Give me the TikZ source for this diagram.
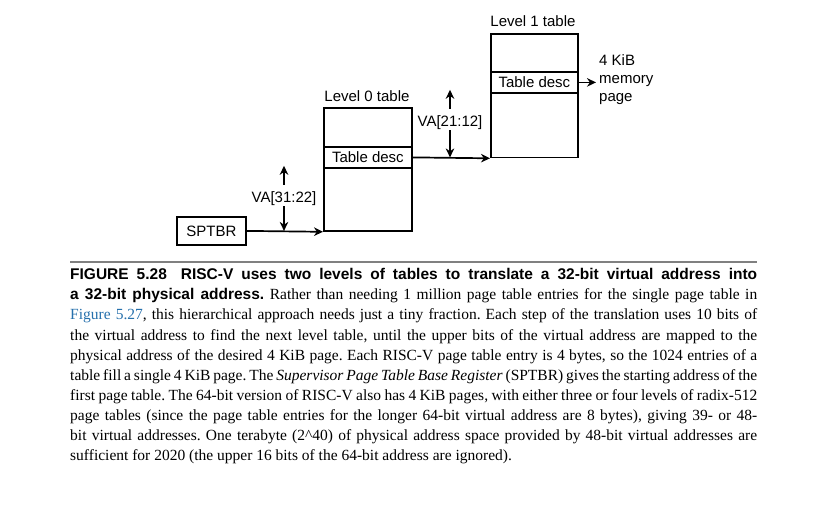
\documentclass[tikz,border=0pt]{standalone}
\usepackage{fontspec}
\setmainfont{Liberation Serif}
\setsansfont{Liberation Sans}
\usetikzlibrary{arrows.meta}
\definecolor{linkblue}{RGB}{38,112,172}
\begin{document}
\begin{tikzpicture}[x=1pt,y=-1pt,
  lbl/.style={font=\sffamily\fontsize{15}{18}\selectfont, inner sep=0pt},
  tbl/.style={draw, line width=1.8pt, anchor=north west, inner sep=0pt,
              font=\sffamily\fontsize{15}{18}\selectfont},
  conn/.style={line width=1.7pt, -{Stealth[length=9pt,width=8.5pt]}}]
\useasboundingbox (0,0) rectangle (828,514);
% SPTBR
\node[tbl, minimum width=69pt, minimum height=28pt] (sptbr) at (176,216) {SPTBR};
% Level 0 table
\node[tbl, minimum width=88pt, minimum height=123pt] (l0) at (323,107) {};
\node[tbl, minimum width=88pt, minimum height=21pt] (l0d) at (323,146) {Table desc};
\node[lbl, anchor=base] (l0lab) at (367,101) {Level 0 table};
% Level 1 table
\node[tbl, minimum width=87pt, minimum height=123.5pt] (l1) at (490,33) {};
\node[tbl, minimum width=87pt, minimum height=21pt] (l1d) at (490,71) {Table desc};
\node[lbl, anchor=base] (l1lab) at (533,26) {Level 1 table};
% memory page
\node[lbl, anchor=west, align=left] (page) at (599,80) {4 KiB\\memory\\page};
\draw[conn] (l1d.east) -- ([xshift=-3pt]page.west |- l1d.east);
% connectors
\draw[conn] (sptbr.east) -- (l0.south west);
\draw[conn] (l0d.east) -- (l1.south west);
% VA[31:22]
\node[lbl] (va1) at (284,199) {VA[31:22]};
\draw[conn] ([yshift=7pt]va1.north) -- ++(0,-19);
\draw[conn] (va1.south) -- (va1.south |- sptbr.east);
% VA[21:12]
\node[lbl] (va2) at (450,123) {VA[21:12]};
\draw[conn] ([yshift=7pt]va2.north) -- ++(0,-19);
\draw[conn] (va2.south) -- (va2.south |- l0d.east);
% rule
\draw[black!50, line width=2pt] (70,262) -- (757,262);
% caption
\node[anchor=north west, inner sep=0pt, text width=687pt, align=justify,
      font=\fontsize{15.5}{20.1}\selectfont] (cap) at (70,265.5) {%
\frenchspacing\hbadness=10000 \parindent=0pt\strut{\sffamily\bfseries FIGURE 5.28\hspace{0.9em}RISC-V uses two levels of tables to translate a 32-bit virtual address into\linebreak
a 32-bit physical address.} Rather than needing 1 million page table entries for the single page table in\linebreak
{\color{linkblue}Figure 5.27}, this hierarchical approach needs just a tiny fraction. Each step of the translation uses 10 bits of\linebreak
the virtual address to find the next level table, until the upper bits of the virtual address are mapped to the\linebreak
physical address of the desired 4 KiB page. Each RISC-V page table entry is 4 bytes, so the 1024 entries of a\linebreak
table fill a single 4 KiB page. The \textit{Supervisor Page Table Base Register} (SPTBR) gives the starting address of the\linebreak
first page table. The 64-bit version of RISC-V also has 4 KiB pages, with either three or four levels of radix-512\linebreak
page tables (since the page table entries for the longer 64-bit virtual address are 8 bytes), giving 39- or 48-\linebreak
bit virtual addresses. One terabyte (2\textasciicircum 40) of physical address space provided by 48-bit virtual addresses are\linebreak
sufficient for 2020 (the upper 16 bits of the 64-bit address are ignored).};
\end{tikzpicture}
\end{document}
